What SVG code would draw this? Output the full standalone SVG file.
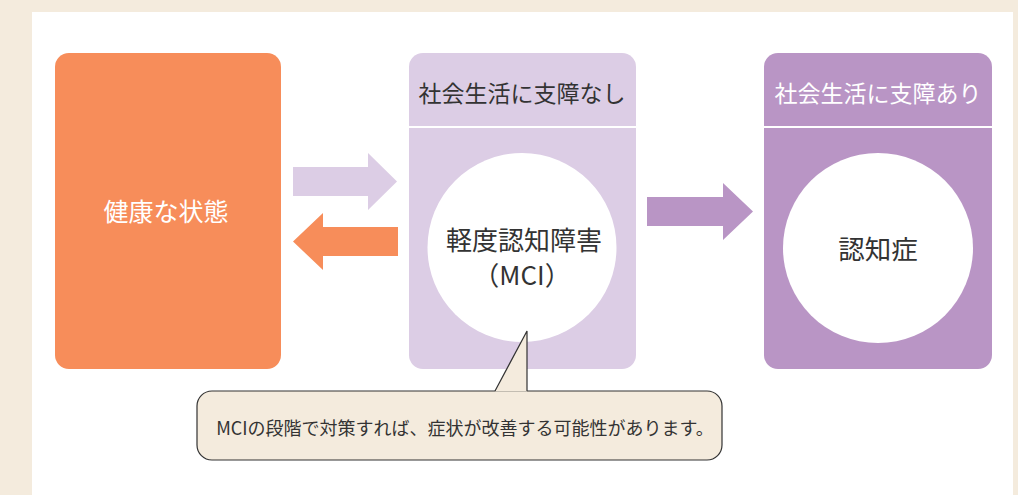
<svg xmlns="http://www.w3.org/2000/svg" width="1018" height="495" viewBox="0 0 1018 495">
<style>
text{font-family:"Noto Sans CJK JP","Noto Sans",sans-serif;text-anchor:middle}
.dark{fill:#333333}
.white{fill:#ffffff}
</style>
<rect x="0" y="0" width="1018" height="495" fill="#F4EBDD"/>
<rect x="32" y="12" width="981" height="483" fill="#ffffff"/>
<g id="healthy">
<rect x="55" y="53" width="226" height="316" rx="14" fill="#F78D5A"/>
<text x="166" y="221" font-size="25" class="white">健康な状態</text>
</g>
<g id="mci">
<rect x="409" y="53" width="227" height="316" rx="14" fill="#DCCDE5"/>
<line x1="409" y1="127" x2="636" y2="127" stroke="#ffffff" stroke-width="2"/>
<text x="522" y="102" font-size="23" class="dark">社会生活に支障なし</text>
<circle cx="522" cy="247.5" r="94.5" fill="#ffffff"/>
<text x="524" y="250" font-size="26" class="dark">軽度認知障害</text>
<text x="522" y="285" font-size="26" class="dark">（MCI）</text>
</g>
<g id="dementia">
<rect x="764" y="53" width="228" height="316" rx="14" fill="#B995C5"/>
<line x1="764" y1="127" x2="992" y2="127" stroke="#ffffff" stroke-width="2"/>
<text x="878" y="102" font-size="23" class="white">社会生活に支障あり</text>
<circle cx="878" cy="248" r="95" fill="#ffffff"/>
<text x="878" y="259" font-size="26.5" class="dark">認知症</text>
</g>
<g id="connectors">
<polygon points="293,167 368,167 368,153 397,181.5 368,210 368,196 293,196" fill="#DCCDE5"/>
<polygon points="398,227 323,227 323,213 293,241.5 323,270 323,256 398,256" fill="#F78D5A"/>
<polygon points="647,197 723,197 723,183 753,211.5 723,240 723,226 647,226" fill="#B995C5"/>
</g>
<g id="callout">
<rect x="197" y="391" width="525" height="69" rx="15" fill="#F4EBDD" stroke="#333333" stroke-width="1.2"/>
<polygon points="495,391.6 527,331 527,391.6" fill="#F4EBDD"/>
<polyline points="495,391 527,331 527,391" fill="none" stroke="#333333" stroke-width="1.2"/>
<text x="465" y="435" font-size="18" class="dark">MCIの段階で対策すれば、症状が改善する可能性があります。</text>
</g>
</svg>
